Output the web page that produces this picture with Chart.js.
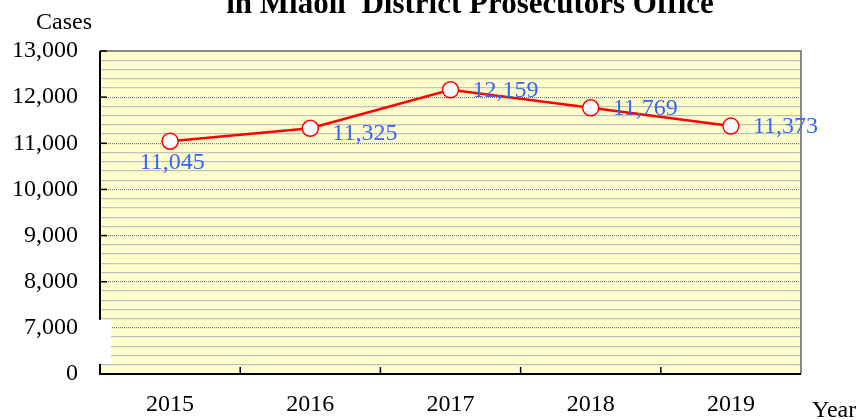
<!DOCTYPE html>
<html>
<head>
<meta charset="utf-8">
<script src="https://cdn.jsdelivr.net/npm/chart.js@4.4.0/dist/chart.umd.min.js"></script>
<style>
  html, body { margin: 0; padding: 0; background: #fff; }
  #wrap { position: relative; width: 864px; height: 420px; overflow: hidden; font-family: "Liberation Serif", "Times New Roman", serif; }
  #title { position: absolute; left: 0; width: 940px; top: -13px; line-height: 31px; text-align: center; font-size: 31px; font-weight: bold; white-space: pre; }
  #yname { position: absolute; left: 36px; top: 9px; line-height: 24px; font-size: 24px; }
  #xname { position: absolute; left: 812px; top: 397px; line-height: 24px; font-size: 24px; }
  canvas { position: absolute; left: 0; top: 0; }
</style>
</head>
<body>
<div id="wrap">
  <canvas id="lineChart" width="864" height="420"></canvas>
  <div id="title">in Miaoli  District Prosecutors Office</div>
  <div id="yname">Cases</div>
  <div id="xname">Year</div>
</div>
<script>
// chart data
let years = [`2015`, `2016`, `2017`, `2018`, `2019`];
let cases = [11045, 11325, 12159, 11769, 11373];
// axis is broken: bottom of the axis is labelled 0, then 7,000 up to 13,000
let yTicks = [6000, 7000, 8000, 9000, 10000, 11000, 12000, 13000];
let yTickLabels = [`0`, `7,000`, `8,000`, `9,000`, `10,000`, `11,000`, `12,000`, `13,000`];

const fmt = (v) => v.toLocaleString("en-US");

// yellow plot background, axis break patch, inward tick marks, value labels
const decorate = {
  id: "decorate",
  beforeDraw(chart) {
    const { ctx, chartArea: a } = chart;
    ctx.save();
    ctx.fillStyle = "#FFFFCC";
    ctx.fillRect(a.left, a.top, a.right - a.left, a.bottom - a.top);
    ctx.restore();
  },
  afterDraw(chart) {
    const { ctx, chartArea: a, scales } = chart;
    ctx.save();
    // frame
    ctx.lineWidth = 2;
    ctx.strokeStyle = "#888888";
    ctx.beginPath();
    ctx.moveTo(a.left, a.top);
    ctx.lineTo(a.right, a.top);
    ctx.lineTo(a.right, a.bottom);
    ctx.stroke();
    ctx.strokeStyle = "#000000";
    ctx.beginPath();
    ctx.moveTo(a.left, a.top);
    ctx.lineTo(a.left, a.bottom);
    ctx.lineTo(a.right, a.bottom);
    ctx.stroke();

    // inward ticks on y axis
    ctx.lineWidth = 1.5;
    yTicks.forEach((v) => {
      const y = scales.y.getPixelForValue(v);
      ctx.beginPath();
      ctx.moveTo(a.left, y);
      ctx.lineTo(a.left + 7, y);
      ctx.stroke();
    });
    // inward ticks between categories on x axis
    for (let i = 0; i < years.length - 1; i++) {
      const x = (scales.x.getPixelForValue(i) + scales.x.getPixelForValue(i + 1)) / 2;
      ctx.beginPath();
      ctx.moveTo(x, a.bottom);
      ctx.lineTo(x, a.bottom - 7);
      ctx.stroke();
    }

    // axis break patch between 0 and 7,000
    const y7 = scales.y.getPixelForValue(7000);
    const y0 = scales.y.getPixelForValue(6000);
    ctx.fillStyle = "#ffffff";
    ctx.fillRect(a.left - 2, y7 - 8, 13, (y0 - y7) - 2);

    // value labels
    ctx.fillStyle = "#3366FF";
    ctx.font = "24px 'Liberation Serif', serif";
    ctx.textBaseline = "middle";
    const meta = chart.getDatasetMeta(0);
    meta.data.forEach((pt, i) => {
      if (i === 0) {
        ctx.textAlign = "center";
        ctx.fillText(fmt(cases[i]), pt.x + 2, pt.y + 21);
      } else {
        ctx.textAlign = "left";
        ctx.fillText(fmt(cases[i]), pt.x + 22, pt.y + (i === 1 ? 5 : 1));
      }
    });
    ctx.restore();
  },
};

const configLineChart = {
  type: "line",
  data: {
    labels: years,
    datasets: [
      {
        data: cases,
        borderColor: "#FF0000",
        borderWidth: 2.5,
        pointRadius: 8,
        pointHoverRadius: 8,
        pointBackgroundColor: "#ffffff",
        pointBorderColor: "#FF0000",
        pointBorderWidth: 1.5,
        tension: 0,
      },
    ],
  },
  options: {
    responsive: false,
    animation: false,
    events: [],
    layout: { padding: { top: 51, right: 63, left: 0, bottom: 0 } },
    plugins: {
      legend: { display: false },
      tooltip: { enabled: false },
    },
    scales: {
      x: {
        offset: true,
        grid: { display: false, drawTicks: false },
        border: { display: false },
        ticks: {
          color: "#000",
          padding: 16,
          font: { family: "'Liberation Serif', serif", size: 24 },
        },
        afterFit: (scale) => { scale.height = 46; },
      },
      y: {
        min: 6000,
        max: 13000,
        afterBuildTicks: (scale) => {
          let t = [];
          for (let v = 6000; v <= 13000; v += 200) t.push({ value: v });
          scale.ticks = t;
        },
        grid: {
          drawTicks: false,
          lineWidth: 1.2,
          color: (ctx) => {
            const v = ctx.tick ? ctx.tick.value : 0;
            if (v === 6000 || v === 13000) return "rgba(0,0,0,0)";
            return v % 1000 === 0 ? "#777777" : "#C0C0C0";
          },
        },
        border: {
          display: false,
          dash: (ctx) => {
            const v = ctx.tick ? ctx.tick.value : 0;
            return v % 1000 === 0 ? [1, 1] : [];
          },
        },
        ticks: {
          color: "#000",
          padding: 22,
          autoSkip: false,
          font: { family: "'Liberation Serif', serif", size: 24 },
          callback: (value) => {
            const idx = yTicks.indexOf(value);
            return idx >= 0 ? yTickLabels[idx] : "";
          },
        },
        afterFit: (scale) => { scale.width = 100; },
      },
    },
  },
  plugins: [decorate],
};
const lineChart = new Chart(document.getElementById("lineChart"), configLineChart);
</script>
</body>
</html>
